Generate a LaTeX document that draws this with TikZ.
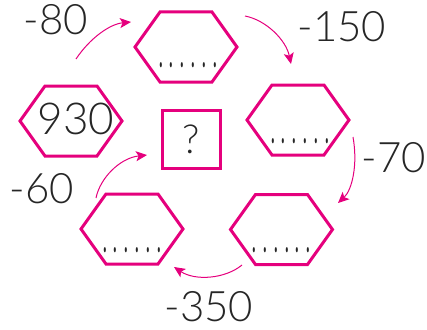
\documentclass[tikz,border=0pt]{standalone}
\usepackage{fontspec}
\setmainfont{Lato}[UprightFont=* Light]
\usetikzlibrary{arrows.meta,calc}
\definecolor{mag}{HTML}{E5007D}
\definecolor{ink}{HTML}{262626}
\newcommand\tk{\makebox[10.8pt]{\scalebox{0.9}[2.2]{.}}}
\newcommand\blankdots{\tk\tk\tk\tk\tk\tk}
\tikzset{
  hexline/.style={draw=mag, line width=3pt, line join=miter},
  boxline/.style={draw=mag, line width=3pt, minimum size=58pt, inner sep=0pt},
  lbl/.style={text=ink, font=\fontsize{42}{42}\selectfont, inner sep=0pt},
  dotsnode/.style={text=ink, font=\fontsize{17}{17}\selectfont\bfseries, inner sep=0pt},
  arr/.style={draw=mag, line width=1pt, -{Stealth[length=11pt,width=10pt,inset=2.5pt]}}
}
\newcommand\hexagon[3]{%
  \coordinate (#1) at (#2,#3);
  \draw[hexline, shift={(#1)}] (-51,0) -- (-26,-35) -- (26,-35) -- (51,0) -- (26,35) -- (-26,35) -- cycle;
}
\begin{document}
\begin{tikzpicture}[x=1pt,y=-1pt]
\useasboundingbox (0,0) rectangle (427,329);
% hexagons
\hexagon{hA}{71}{121}
\hexagon{hB}{186}{47}
\hexagon{hC}{298}{120}
\hexagon{hD}{281.5}{229.5}
\hexagon{hE}{132}{229}
% square
\node[boxline, draw, minimum size=58pt] (sq) at (191.5,139.5) {};
\node[lbl, font=\fontsize{40}{40}\selectfont] (q) at (sq) {?};
% texts in hexagons
\node[lbl, font=\fontsize{44}{44}\selectfont] (t930) at (76,119) {930};
\node[dotsnode, anchor=base] (dB) at ($(hB)+(2,20)$) {\blankdots};
\node[dotsnode, anchor=base] (dC) at ($(hC)+(2,23)$) {\blankdots};
\node[dotsnode, anchor=base] (dD) at ($(hD)+(0,23)$) {\blankdots};
\node[dotsnode, anchor=base] (dE) at ($(hE)+(0,23)$) {\blankdots};
% labels
\node[lbl] (l80) at (56,20) {-80};
\node[lbl] (l150) at (342,27) {-150};
\node[lbl] (l70) at (394,158) {-70};
\node[lbl] (l350) at (209,307) {-350};
\node[lbl] (l60) at (42,189) {-60};
% arrow endpoints
\coordinate (a1s) at (76,59);   \coordinate (a1e) at (131,22);
\coordinate (a2s) at (245,16);  \coordinate (a2e) at (291,64);
\coordinate (a3s) at (353,137); \coordinate (a3e) at (338,203);
\coordinate (a4s) at (242,265); \coordinate (a4e) at (174,267);
\coordinate (a5s) at (96,198);  \coordinate (a5e) at (147,155);
\draw[arr] (a1s) .. controls (90,38) and (110,24) .. (a1e);
\draw[arr] (a2s) .. controls (266,20) and (286,40) .. (a2e);
\draw[arr] (a3s) .. controls (358,165) and (352,190) .. (a3e);
\draw[arr] (a4s) .. controls (225,279) and (195,281) .. (a4e);
\draw[arr] (a5s) .. controls (100,178) and (120,158) .. (a5e);
\end{tikzpicture}
\end{document}
